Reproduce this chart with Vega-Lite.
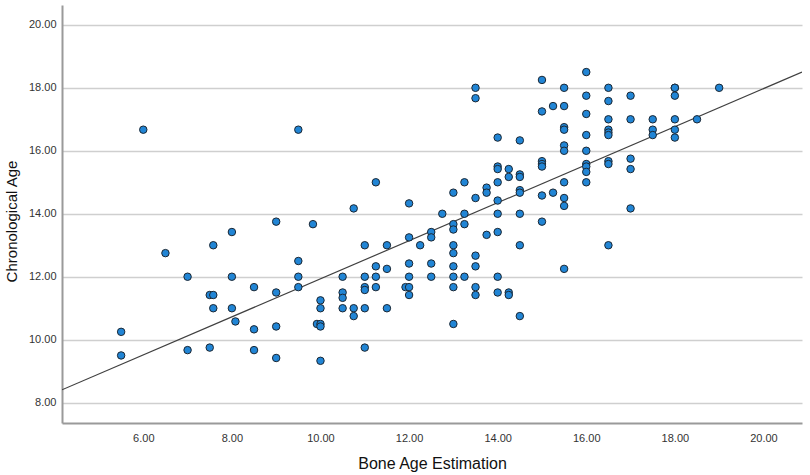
{
  "$schema": "https://vega.github.io/schema/vega-lite/v6.json",
  "autosize": "none",
  "width": 740,
  "height": 418,
  "padding": {"left": 62, "top": 5, "right": 8, "bottom": 52},
  "background": "white",
  "config": {
    "view": {"stroke": null},
    "font": "Liberation Sans"
  },
  "datasets": {
    "points": [
      {"bone": 5.5, "age": 10.25}, {"bone": 5.5, "age": 9.5}, {"bone": 6.0, "age": 16.67},
      {"bone": 6.5, "age": 12.75}, {"bone": 7.0, "age": 12.0}, {"bone": 7.0, "age": 9.67},
      {"bone": 7.58, "age": 13.0}, {"bone": 7.5, "age": 11.42}, {"bone": 7.58, "age": 11.42},
      {"bone": 7.58, "age": 11.0}, {"bone": 7.5, "age": 9.75}, {"bone": 8.0, "age": 13.42},
      {"bone": 8.0, "age": 12.0}, {"bone": 8.0, "age": 11.0}, {"bone": 8.08, "age": 10.58},
      {"bone": 8.5, "age": 11.67}, {"bone": 8.5, "age": 10.33}, {"bone": 8.5, "age": 9.67},
      {"bone": 9.0, "age": 13.75}, {"bone": 9.0, "age": 11.5}, {"bone": 9.0, "age": 10.42},
      {"bone": 9.0, "age": 9.42}, {"bone": 9.5, "age": 16.67}, {"bone": 9.5, "age": 12.5},
      {"bone": 9.5, "age": 12.0}, {"bone": 9.5, "age": 11.67}, {"bone": 9.83, "age": 13.67},
      {"bone": 9.92, "age": 10.5}, {"bone": 10.0, "age": 11.25}, {"bone": 10.0, "age": 11.0},
      {"bone": 10.0, "age": 10.5}, {"bone": 10.0, "age": 10.42}, {"bone": 10.0, "age": 9.33},
      {"bone": 10.5, "age": 12.0}, {"bone": 10.5, "age": 11.5}, {"bone": 10.5, "age": 11.33},
      {"bone": 10.5, "age": 11.0}, {"bone": 10.75, "age": 14.17}, {"bone": 10.75, "age": 11.0},
      {"bone": 10.75, "age": 10.75}, {"bone": 11.0, "age": 13.0}, {"bone": 11.0, "age": 12.0},
      {"bone": 11.0, "age": 11.67}, {"bone": 11.0, "age": 11.58}, {"bone": 11.0, "age": 11.0},
      {"bone": 11.0, "age": 9.75}, {"bone": 11.25, "age": 15.0}, {"bone": 11.25, "age": 12.33},
      {"bone": 11.25, "age": 12.0}, {"bone": 11.25, "age": 11.67}, {"bone": 11.5, "age": 13.0},
      {"bone": 11.5, "age": 12.25}, {"bone": 11.5, "age": 11.0}, {"bone": 11.92, "age": 11.67},
      {"bone": 12.0, "age": 14.33}, {"bone": 12.0, "age": 13.25}, {"bone": 12.0, "age": 12.42},
      {"bone": 12.0, "age": 12.0}, {"bone": 12.0, "age": 11.67}, {"bone": 12.0, "age": 11.42},
      {"bone": 12.25, "age": 13.0}, {"bone": 12.5, "age": 13.42}, {"bone": 12.5, "age": 13.25},
      {"bone": 12.5, "age": 12.42}, {"bone": 12.5, "age": 12.0}, {"bone": 12.75, "age": 14.0},
      {"bone": 13.0, "age": 14.67}, {"bone": 13.0, "age": 13.67}, {"bone": 13.0, "age": 13.5},
      {"bone": 13.0, "age": 13.0}, {"bone": 13.0, "age": 12.75}, {"bone": 13.0, "age": 12.33},
      {"bone": 13.0, "age": 12.0}, {"bone": 13.0, "age": 11.67}, {"bone": 13.0, "age": 10.5},
      {"bone": 13.25, "age": 15.0}, {"bone": 13.25, "age": 14.0}, {"bone": 13.25, "age": 13.67},
      {"bone": 13.25, "age": 12.0}, {"bone": 13.5, "age": 18.0}, {"bone": 13.5, "age": 17.67},
      {"bone": 13.5, "age": 14.5}, {"bone": 13.5, "age": 12.67}, {"bone": 13.5, "age": 12.33},
      {"bone": 13.5, "age": 11.67}, {"bone": 13.5, "age": 11.42}, {"bone": 13.75, "age": 14.83},
      {"bone": 13.75, "age": 14.67}, {"bone": 13.75, "age": 13.33}, {"bone": 14.0, "age": 16.42},
      {"bone": 14.0, "age": 15.5}, {"bone": 14.0, "age": 15.42}, {"bone": 14.0, "age": 15.0},
      {"bone": 14.0, "age": 14.42}, {"bone": 14.0, "age": 14.0}, {"bone": 14.0, "age": 13.42},
      {"bone": 14.0, "age": 12.0}, {"bone": 14.0, "age": 11.5}, {"bone": 14.25, "age": 15.42},
      {"bone": 14.25, "age": 15.17}, {"bone": 14.25, "age": 11.5}, {"bone": 14.25, "age": 11.42},
      {"bone": 14.5, "age": 16.33}, {"bone": 14.5, "age": 15.25}, {"bone": 14.5, "age": 15.17},
      {"bone": 14.5, "age": 14.75}, {"bone": 14.5, "age": 14.67}, {"bone": 14.5, "age": 14.0},
      {"bone": 14.5, "age": 13.0}, {"bone": 14.5, "age": 10.75}, {"bone": 15.0, "age": 18.25},
      {"bone": 15.0, "age": 17.25}, {"bone": 15.0, "age": 15.67}, {"bone": 15.0, "age": 15.58},
      {"bone": 15.0, "age": 15.5}, {"bone": 15.0, "age": 14.58}, {"bone": 15.0, "age": 13.75},
      {"bone": 15.25, "age": 17.42}, {"bone": 15.25, "age": 14.67}, {"bone": 15.5, "age": 18.0},
      {"bone": 15.5, "age": 17.42}, {"bone": 15.5, "age": 16.75}, {"bone": 15.5, "age": 16.67},
      {"bone": 15.5, "age": 16.17}, {"bone": 15.5, "age": 16.0}, {"bone": 15.5, "age": 15.0},
      {"bone": 15.5, "age": 14.5}, {"bone": 15.5, "age": 14.25}, {"bone": 15.5, "age": 12.25},
      {"bone": 16.0, "age": 18.5}, {"bone": 16.0, "age": 17.75}, {"bone": 16.0, "age": 17.17},
      {"bone": 16.0, "age": 16.5}, {"bone": 16.0, "age": 16.0}, {"bone": 16.0, "age": 15.58},
      {"bone": 16.0, "age": 15.5}, {"bone": 16.0, "age": 15.33}, {"bone": 16.0, "age": 15.0},
      {"bone": 16.5, "age": 18.0}, {"bone": 16.5, "age": 17.58}, {"bone": 16.5, "age": 17.0},
      {"bone": 16.5, "age": 16.67}, {"bone": 16.5, "age": 16.58}, {"bone": 16.5, "age": 16.5},
      {"bone": 16.5, "age": 15.67}, {"bone": 16.5, "age": 15.58}, {"bone": 16.5, "age": 13.0},
      {"bone": 17.0, "age": 17.75}, {"bone": 17.0, "age": 17.0}, {"bone": 17.0, "age": 15.75},
      {"bone": 17.0, "age": 15.42}, {"bone": 17.0, "age": 14.17}, {"bone": 17.5, "age": 17.0},
      {"bone": 17.5, "age": 16.67}, {"bone": 17.5, "age": 16.5}, {"bone": 18.0, "age": 18.0},
      {"bone": 18.0, "age": 18.0}, {"bone": 18.0, "age": 17.75}, {"bone": 18.0, "age": 17.0},
      {"bone": 18.0, "age": 16.67}, {"bone": 18.0, "age": 16.42}, {"bone": 18.5, "age": 17.0},
      {"bone": 19.0, "age": 18.0}
    ],
    "fit": [
      {"bone": 4.165, "age": 8.41},
      {"bone": 20.87, "age": 18.5}
    ]
  },
  "encoding": {
    "x": {
      "field": "bone",
      "type": "quantitative",
      "scale": {"domain": [4.165, 20.87], "nice": false, "zero": false},
      "axis": {
        "title": "Bone Age Estimation",
        "values": [6, 8, 10, 12, 14, 16, 18, 20],
        "format": ".2f",
        "grid": false,
        "ticks": false,
        "domainColor": "#9a9a9a",
        "domainWidth": 2,
        "labelFontSize": 11,
        "labelColor": "#333333",
        "labelPadding": 9,
        "titleFontSize": 16,
        "titleFontWeight": "normal",
        "titleColor": "#111111",
        "titlePadding": 12
      }
    },
    "y": {
      "field": "age",
      "type": "quantitative",
      "scale": {"domain": [7.355, 20.63], "nice": false, "zero": false},
      "axis": {
        "title": "Chronological Age",
        "values": [8, 10, 12, 14, 16, 18, 20],
        "format": ".2f",
        "grid": true,
        "gridColor": "#cfcfcf",
        "gridWidth": 1.5,
        "ticks": false,
        "domainColor": "#9a9a9a",
        "domainWidth": 2,
        "labelFontSize": 11,
        "labelColor": "#333333",
        "labelPadding": 6,
        "titleFontSize": 15,
        "titleFontWeight": "normal",
        "titleColor": "#111111",
        "titlePadding": 9,
        "titleY": 216
      }
    }
  },
  "layer": [
    {
      "data": {"name": "fit"},
      "mark": {"type": "line", "color": "#404040", "strokeWidth": 1.2, "clip": true}
    },
    {
      "data": {"name": "points"},
      "mark": {"type": "point", "shape": "circle", "filled": true, "size": 56, "fill": "#2185d5", "stroke": "#1b2733", "strokeWidth": 1, "opacity": 1}
    }
  ]
}
